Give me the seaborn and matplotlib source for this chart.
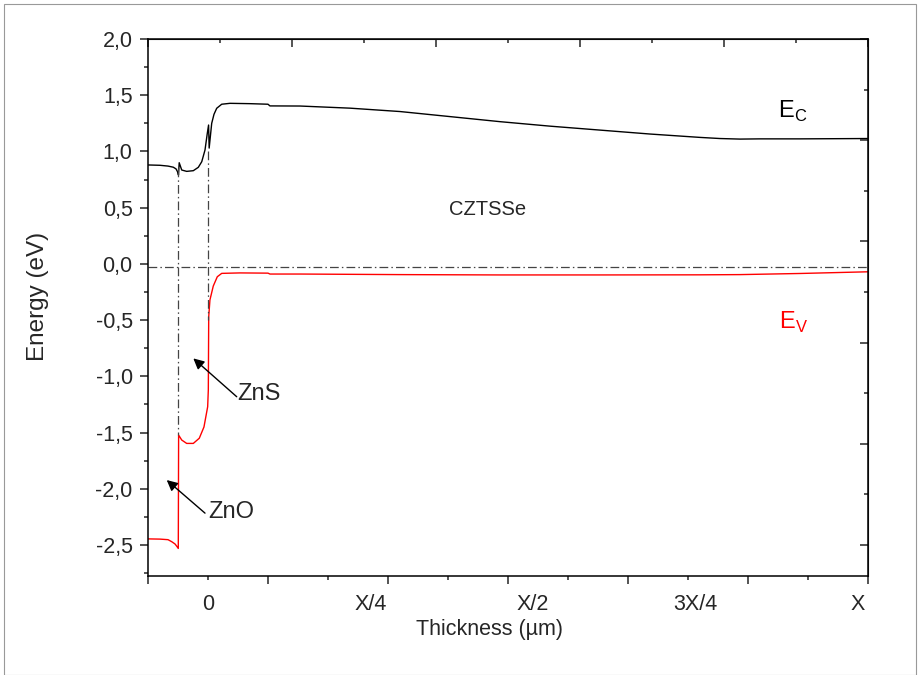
import numpy as np
import pandas as pd
import matplotlib
matplotlib.use("Agg")
import matplotlib.pyplot as plt
import seaborn as sns

# ---------------- data (x in units of total thickness X) ----------------
ec_x = [-0.0923, -0.0738, -0.0615, -0.0534, -0.0492, -0.0469, -0.0454, -0.0443,
        -0.0404, -0.0328, -0.0226, -0.0149, -0.0096, -0.0046, -0.0011, 0.0009,
        0.0018, 0.0057, 0.0092, 0.0134, 0.0211, 0.0338, 0.0646, 0.0923, 0.0953,
        0.1415, 0.2185, 0.2954, 0.3723, 0.4492, 0.5262, 0.6030, 0.6800, 0.7570,
        0.7877, 0.8185, 0.8493, 0.9108, 1.0154]
ec_y = [0.88, 0.877, 0.87, 0.86, 0.845, 0.82, 0.79, 0.90,
        0.835, 0.823, 0.829, 0.859, 0.909, 1.013, 1.16, 1.235,
        1.03, 1.25, 1.33, 1.384, 1.42, 1.428, 1.425, 1.42, 1.405,
        1.404, 1.385, 1.355, 1.31, 1.265, 1.225, 1.19, 1.155, 1.125,
        1.115, 1.11, 1.112, 1.112, 1.115]

ev_x = [-0.0923, -0.0738, -0.0615, -0.0558, -0.0508, -0.0481, -0.0457, -0.0452,
        -0.0404, -0.0328, -0.0226, -0.0134, -0.0062, -0.0005, 0.0005, 0.0011,
        0.0030, 0.0081, 0.0143, 0.0211, 0.0492, 0.0923, 0.0953, 0.1415, 0.2954,
        0.4492, 0.6030, 0.7570, 0.8185, 0.9108, 1.0154]
ev_y = [-2.445, -2.447, -2.452, -2.47, -2.49, -2.51, -2.53, -1.522,
        -1.566, -1.596, -1.596, -1.55, -1.45, -1.27, -1.12, -0.47,
        -0.32, -0.197, -0.114, -0.084, -0.08, -0.082, -0.09, -0.09, -0.095,
        -0.098, -0.098, -0.097, -0.095, -0.085, -0.07]

fermi_level = -0.025
interface_x = [-0.0454, 0.0005]
interface_top = [0.85, 1.0]
interface_bottom = [-1.52, -0.5]

y_ticks = [-2.5, -2.0, -1.5, -1.0, -0.5, 0.0, 0.5, 1.0, 1.5, 2.0]
y_ticklabels = ["-2,5", "-2,0", "-1,5", "-1,0", "-0,5", "0,0", "0,5", "1,0", "1,5", "2,0"]
x_label_pos = [0.0, 0.25, 0.5, 0.75, 1.0]
x_ticklabels = ["0", "X/4", "X/2", "3X/4", "X"]

# ---------------- style ----------------
sns.set_style("ticks")
plt.rcParams["font.family"] = ["Liberation Sans", "DejaVu Sans"]
plt.rcParams["mathtext.fontset"] = "custom"
plt.rcParams["mathtext.rm"] = "Liberation Sans"

fig = plt.figure(figsize=(9.2, 6.75), dpi=100)
ax = fig.add_axes([148 / 920, 1 - 576 / 675, 720 / 920, 537 / 675])

XMIN, XMAX = -0.0923, 1.0154
YMIN, YMAX = -2.775, 2.0

df_ec = pd.DataFrame({"x": ec_x, "E": ec_y})
df_ev = pd.DataFrame({"x": ev_x, "E": ev_y})
sns.lineplot(data=df_ec, x="x", y="E", ax=ax, color="black", lw=1.0,
             sort=False, estimator=None)
sns.lineplot(data=df_ev, x="x", y="E", ax=ax, color="#ff0000", lw=1.0,
             sort=False, estimator=None)

dash = (0, (7, 2.5, 1.2, 2.5))
ax.plot([XMIN, XMAX], [fermi_level, fermi_level], color="#444444", lw=0.9,
        linestyle=dash)
for xi, yt, yb in zip(interface_x, interface_top, interface_bottom):
    ax.plot([xi, xi], [yt, yb], color="#444444", lw=0.9, linestyle=dash)

ax.set_xlim(XMIN, XMAX)
ax.set_ylim(YMIN, YMAX)

# left axis ticks / labels
ax.set_yticks(y_ticks)
ax.set_yticklabels(y_ticklabels)
ax.set_yticks(np.arange(-2.75, 2.01, 0.25), minor=True)
ax.tick_params(axis="y", which="major", direction="out", length=6, width=1.1,
               labelsize=15.5, pad=5, right=False)
ax.tick_params(axis="y", which="minor", direction="out", length=3.2, width=1.1,
               right=False)

# bottom tick marks (no labels): 12 equal steps across the frame
xspan = XMAX - XMIN
bottom_major = XMIN + np.arange(7) * (xspan / 6)
bottom_minor = XMIN + xspan / 12 + np.arange(6) * (xspan / 6)
ax.set_xticks(bottom_major)
ax.set_xticks(bottom_minor, minor=True)
ax.tick_params(axis="x", which="major", direction="out", length=6, width=1.1,
               labelbottom=False, top=False)
ax.tick_params(axis="x", which="minor", direction="out", length=3.2, width=1.1,
               top=False)

# bottom labels through a secondary axis
secb = ax.secondary_xaxis("bottom")
secb.set_xticks(x_label_pos)
secb.set_xticklabels(x_ticklabels)
secb.tick_params(axis="x", length=0, pad=13, labelsize=15.5)
secb.spines["bottom"].set_visible(False)
secb.set_xlabel("Thickness (µm)", fontsize=15.5)
secb.xaxis.set_label_coords(0.474, -0.08, transform=ax.transAxes)

# top mirror ticks: 10 equal steps
sect = ax.secondary_xaxis("top")
top_all = XMIN + np.arange(11) * (xspan / 10)
sect.set_xticks(top_all[::2])
sect.set_xticks(top_all[1::2], minor=True)
sect.tick_params(axis="x", which="major", direction="in", length=6, width=1.1,
                 labeltop=False)
sect.tick_params(axis="x", which="minor", direction="in", length=3.2, width=1.1)

# right mirror ticks
secr = ax.secondary_yaxis("right")
right_all = -2.5 + np.arange(11) * 0.45
secr.set_yticks(right_all[::2])
secr.set_yticks(right_all[1::2], minor=True)
secr.tick_params(axis="y", which="major", direction="in", length=6, width=1.1,
                 labelright=False)
secr.tick_params(axis="y", which="minor", direction="in", length=3.2, width=1.1)

for sp in ax.spines.values():
    sp.set_visible(True)
    sp.set_linewidth(1.1)
    sp.set_color("black")

ax.set_ylabel("Energy (eV)", fontsize=17.5)
ax.yaxis.set_label_coords(-0.137, 0.52)
ax.set_xlabel("")

# annotations
ax.text(0.4308, 0.488, "CZTSSe", fontsize=14.5, ha="center", va="center")
ax.text(0.90, 1.36, r"E$_\mathregular{C}$", fontsize=17, ha="center", va="center",
        color="black")
ax.text(0.90, -0.52, r"E$_\mathregular{V}$", fontsize=17, ha="center", va="center",
        color="#ff0000")

ax.annotate("", xy=(-0.0226, -0.84), xytext=(0.0442, -1.181),
            arrowprops=dict(arrowstyle="-|>", color="black", lw=1.0,
                            mutation_scale=16, shrinkA=0, shrinkB=0))
ax.text(0.0452, -1.157, "ZnS", fontsize=17, ha="left", va="center")
ax.annotate("", xy=(-0.0635, -1.922), xytext=(-0.0046, -2.216),
            arrowprops=dict(arrowstyle="-|>", color="black", lw=1.0,
                            mutation_scale=16, shrinkA=0, shrinkB=0))
ax.text(0.0, -2.207, "ZnO", fontsize=17, ha="left", va="center")

# thin outer frame like the source image
fig.patches.append(plt.Rectangle((4 / 920, 0), 912 / 920, 671 / 675,
                                 transform=fig.transFigure, fill=False,
                                 edgecolor="#999999", lw=0.8))

fig.savefig("out.png", dpi=100)
